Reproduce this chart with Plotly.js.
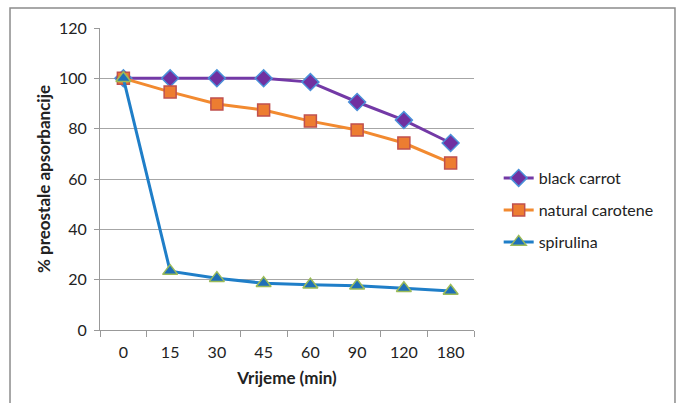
<!DOCTYPE html>
<html><head><meta charset="utf-8">
<script src="https://cdn.plot.ly/plotly-3.0.1.min.js"></script>
<style>body{margin:0;background:#fff}#c{width:677px;height:403px}</style>
</head><body><div id="c"></div>
<script>
const categories = ["0","15","30","45","60","90","120","180"];
const blackCarrot = [100, 100, 100, 100, 98.5, 90.6, 83.4, 74.3];
const naturalCarotene = [100, 94.6, 89.8, 87.4, 83.0, 79.5, 74.3, 66.4];
const spirulina = [100, 23.4, 20.6, 18.6, 18.0, 17.6, 16.6, 15.5];
const yTicks = [0, 20, 40, 60, 80, 100, 120];

const fam = "Lato, 'Open Sans', sans-serif";
const txt = "#222";
const traces = [
  {name: "black carrot", x: categories, y: blackCarrot, type: "scatter", mode: "lines+markers", legend: "legend",
   line: {color: "#7339A6", width: 3},
   marker: {symbol: "diamond", size: 13, color: "#7030A0", line: {color: "#4A90D9", width: 1.5}}},
  {name: "natural carotene", x: categories, y: naturalCarotene, type: "scatter", mode: "lines+markers", legend: "legend2",
   line: {color: "#F28A30", width: 3},
   marker: {symbol: "square", size: 12, color: "#ED7D31", line: {color: "#C0504D", width: 1.5}}},
  {name: "spirulina", x: categories, y: spirulina, type: "scatter", mode: "lines+markers", legend: "legend3",
   line: {color: "#1F7EC8", width: 3},
   marker: {symbol: "triangle-up", size: 13, color: "#1F6FB8", line: {color: "#9BBB59", width: 1.5}}}
];
function leg(ypx) {
  return {x: 1.066, y: (330 - ypx) / 302, xanchor: "left", yanchor: "middle",
          font: {family: fam, size: 16, color: txt}, bgcolor: "rgba(0,0,0,0)", borderwidth: 0};
}
const layout = {
  width: 677, height: 403,
  margin: {l: 100, r: 203, t: 28, b: 73},
  paper_bgcolor: "#fff", plot_bgcolor: "#fff",
  font: {family: fam, size: 16, color: txt},
  showlegend: true,
  legend: leg(178), legend2: leg(210), legend3: leg(242),
  xaxis: {type: "category", categoryorder: "array", categoryarray: categories, range: [-0.5, 7.5],
          showgrid: false, showline: true, linecolor: "#999", linewidth: 1,
          ticks: "outside", tickson: "boundaries", ticklen: 6, tickcolor: "#999",
          ticklabelstandoff: 8,
          tickfont: {family: fam, size: 16, color: txt},
          title: {text: "<b>Vrijeme (min)</b>", font: {family: fam, size: 17, color: txt}, standoff: 11}},
  yaxis: {range: [0, 120], tickvals: yTicks, ticktext: yTicks.map(String),
          showgrid: true, gridcolor: "#A6A6A6", gridwidth: 1, zeroline: false,
          showline: true, linecolor: "#999", ticks: "outside", ticklen: 5, tickcolor: "#999",
          ticklabelstandoff: 4,
          tickfont: {family: fam, size: 16, color: txt},
          title: {text: "<b>% preostale apsorbancije</b>", font: {family: fam, size: 17, color: txt}, standoff: 4}},
  shapes: [{type: "rect", xref: "paper", yref: "paper", x0: -0.2406, x1: 1.5374, y0: -0.35, y1: 1.0662,
            line: {color: "#8C8C8C", width: 1.5}, fillcolor: "rgba(0,0,0,0)", layer: "below"}]
};
Plotly.newPlot("c", traces, layout, {displayModeBar: false, staticPlot: true});
</script></body></html>
